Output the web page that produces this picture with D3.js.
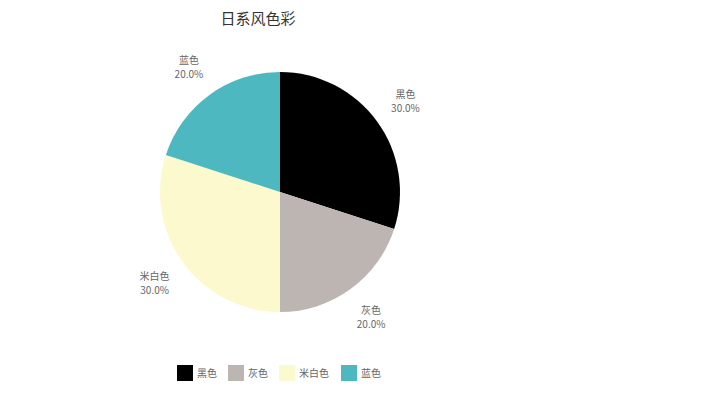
<!DOCTYPE html>
<html>
<head>
<meta charset="utf-8">
<script src="https://cdn.jsdelivr.net/npm/d3@7"></script>
<style>
  body { margin: 0; background: #fff; }
  text { font-family: "Noto Sans CJK SC", "Noto Sans", sans-serif; }
</style>
</head>
<body>
<svg id="chart" width="720" height="400"></svg>
<script>
// pie data
var categories = ["黑色", "灰色", "米白色", "蓝色"];
var values = [30, 20, 30, 20];
var colors = ["#000000", "#bdb5b2", "#fdf9cf", "#4db8c0"];

var svg = d3.select("#chart");
var cx = 280, cy = 192, radius = 120;

svg.append("text")
    .attr("x", 258).attr("y", 24)
    .attr("text-anchor", "middle")
    .attr("font-size", 15)
    .attr("fill", "#333")
    .text("日系风色彩");

var total = d3.sum(values);
var pie = d3.pie().sort(null).value(function(d) { return d; });
var arcs = pie(values);
var arc = d3.arc().innerRadius(0).outerRadius(radius);
var labelArc = d3.arc().innerRadius(155).outerRadius(155);
var color = d3.scaleOrdinal().domain(categories).range(colors);

var g = svg.append("g").attr("transform", "translate(" + cx + "," + cy + ")");

g.selectAll(".slice")
    .data(arcs)
    .enter().append("path")
    .attr("class", "slice")
    .attr("d", arc)
    .attr("fill", function(d, i) { return color(categories[i]); });

// two-line labels: name then percent
var labels = g.selectAll(".lbl")
    .data(arcs)
    .enter().append("g")
    .attr("class", "lbl")
    .attr("transform", function(d) {
        var c = labelArc.centroid(d);
        return "translate(" + c[0] + "," + c[1] + ")";
    });
labels.append("text")
    .attr("text-anchor", "middle")
    .attr("y", -3)
    .attr("font-size", 10)
    .attr("fill", "#666")
    .text(function(d, i) { return categories[i]; });
labels.append("text")
    .attr("text-anchor", "middle")
    .attr("y", 11)
    .attr("font-size", 10)
    .attr("fill", "#666")
    .text(function(d) { return d3.format(".1%")(d.value / total); });

// legend
var legendX = [177, 228, 279, 341];
var legend = svg.selectAll(".legend")
    .data(categories)
    .enter().append("g")
    .attr("class", "legend")
    .attr("transform", function(d, i) { return "translate(" + legendX[i] + ",365)"; });
legend.append("rect")
    .attr("width", 16).attr("height", 16)
    .attr("fill", function(d) { return color(d); });
legend.append("text")
    .attr("x", 20).attr("y", 12)
    .attr("font-size", 10)
    .attr("fill", "#666")
    .text(function(d) { return d; });
</script>
</body>
</html>
